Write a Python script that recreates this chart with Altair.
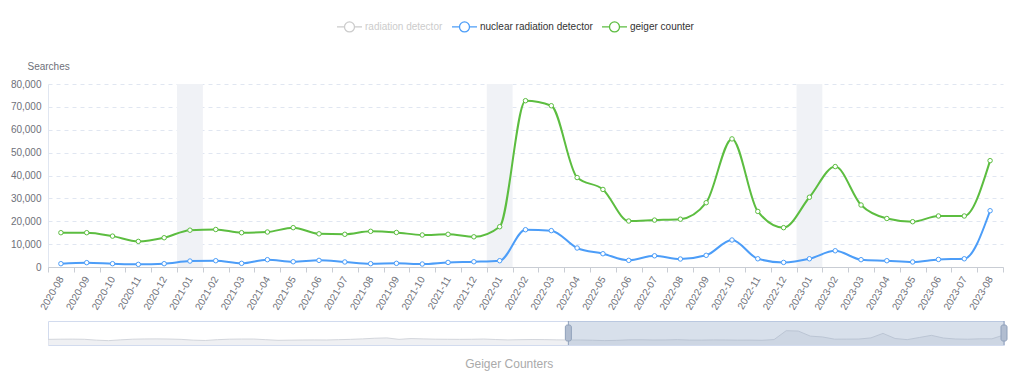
import altair as alt
import pandas as pd

FONT = "Liberation Sans"

months = [
    "2020-08", "2020-09", "2020-10", "2020-11", "2020-12",
    "2021-01", "2021-02", "2021-03", "2021-04", "2021-05", "2021-06",
    "2021-07", "2021-08", "2021-09", "2021-10", "2021-11", "2021-12",
    "2022-01", "2022-02", "2022-03", "2022-04", "2022-05", "2022-06",
    "2022-07", "2022-08", "2022-09", "2022-10", "2022-11", "2022-12",
    "2023-01", "2023-02", "2023-03", "2023-04", "2023-05", "2023-06",
    "2023-07", "2023-08",
]

nuclear_radiation_detector = [
    1450, 1900, 1450, 1150, 1450,
    2600, 2750, 1600, 3200, 2300, 2900, 2200, 1450, 1600, 1300, 2000, 2300,
    2750, 16300, 15900, 8300, 5800, 2900, 4900, 3500, 5100, 11800, 3600, 2000,
    3600, 7100, 3200, 2750, 2200, 3300, 3600, 24600,
]

geiger_counter = [
    15000, 15000, 13500, 11200, 12800,
    16100, 16400, 15000, 15300, 17200, 14500, 14300, 15600, 15100, 14000, 14300, 13200,
    17600, 72700, 70500, 39100, 33900, 20100, 20500, 20900, 28100, 56000, 24300, 17200,
    30500, 43900, 27100, 21200, 19800, 22300, 22300, 46500,
]

series_names = ["radiation detector", "nuclear radiation detector", "geiger counter"]
series_colors = ["#cccccc", "#4c9df8", "#5cbd40"]

highlight_months = ["2021-01", "2022-01", "2023-01"]

y_ticks = [0, 10000, 20000, 30000, 40000, 50000, 60000, 70000, 80000]

# overview (data-zoom) series: earlier months 2017-01 .. 2020-07, then the shown window
early_months = [f"{y}-{m:02d}" for y in range(2017, 2021) for m in range(1, 13)][:43]
early_geiger = [
    19000, 20000, 20500, 19500, 14000, 11000, 16000, 20000, 21500, 22000, 21000, 19000,
    14000, 12000, 17000, 20000, 21000, 21000, 17000, 13000, 14000, 15000, 15500, 15000,
    17000, 19000, 22000, 26000, 28000, 19000, 24000, 22000, 20000, 19500, 19000, 19500,
    21000, 18000, 15500, 17000, 18000, 17500, 16000,
]
all_months = early_months + months
overview_values = early_geiger + geiger_counter

# ---------------- data frames ----------------
long_df = pd.DataFrame({
    "month": months * 2,
    "series": ["nuclear radiation detector"] * len(months) + ["geiger counter"] * len(months),
    "value": nuclear_radiation_detector + geiger_counter,
})
hl_df = pd.DataFrame({"month": highlight_months})
ov_df = pd.DataFrame({"idx": list(range(len(all_months))), "month": all_months, "value": overview_values})
sel_start = all_months.index(months[0])
sel_end = all_months.index(months[-1])
sel_df = pd.DataFrame({"start": [sel_start], "end": [sel_end]})
handle_df = pd.DataFrame({"pos": [sel_start, sel_end]})

# ---------------- main chart ----------------
x_scale = alt.Scale(type="band", domain=months, paddingInner=0, paddingOuter=0)
x_axis = alt.Axis(
    title=None, labelAngle=-60, labelAlign="right", labelBaseline="middle",
    labelPadding=5, tickBand="extent", tickSize=5, tickColor="#c9cdd4",
    domainColor="#c9cdd4", labelColor="#6e7079", labelFontSize=10, labelFont=FONT,
    grid=False,
)
y_scale = alt.Scale(domain=[0, 80000], nice=False)
y_axis = alt.Axis(
    values=y_ticks, format=",d", title="Searches",
    titleAngle=0, titleAlign="left", titleBaseline="middle", titleX=-21, titleY=-18,
    titleFontWeight="normal", titleColor="#6e7079", titleFontSize=10, titleFont=FONT,
    labelColor="#6e7079", labelFontSize=10, labelFont=FONT, labelPadding=7,
    ticks=False, domain=True, domainColor="#e0e6f1",
    grid=True, gridDash=[4, 4], gridColor="#e0e6f1",
)

bands = alt.Chart(hl_df).mark_rect(color="#f0f2f6").encode(
    x=alt.X("month:O", scale=x_scale, axis=x_axis),
    y=alt.datum(80000, type="quantitative", scale=y_scale, axis=y_axis),
    y2=alt.datum(0),
)

color_scale = alt.Scale(domain=series_names, range=series_colors)

lines = alt.Chart(long_df).mark_line(interpolate="monotone", strokeWidth=2).encode(
    x=alt.X("month:O", scale=x_scale, axis=x_axis, bandPosition=0.5),
    y=alt.Y("value:Q", scale=y_scale, axis=y_axis),
    color=alt.Color(
        "series:N", scale=color_scale,
        legend=alt.Legend(
            title=None, orient="none", legendX=288, legendY=-71, direction="horizontal",
            symbolType="M-1,0L-0.42,0M0.42,0L1,0M0.4,0A0.4,0.4,0,1,1,-0.4,0A0.4,0.4,0,1,1,0.4,0",
            symbolSize=625, symbolStrokeWidth=1.3, symbolFillColor="white",
            labelFont=FONT, labelFontSize=10, labelOffset=2, columnPadding=6,
            labelColor=alt.ExprRef("datum.label == 'radiation detector' ? '#cccccc' : '#333333'"),
        ),
    ),
)

points = alt.Chart(long_df).mark_point(filled=True, fill="white", size=20, strokeWidth=1, opacity=1).encode(
    x=alt.X("month:O", scale=x_scale, axis=x_axis, bandPosition=0.5),
    y=alt.Y("value:Q", scale=y_scale, axis=y_axis),
    stroke=alt.Stroke("series:N", scale=color_scale, legend=None),
)

main = alt.layer(bands, lines, points).properties(width=955, height=183)

# ---------------- overview slider ----------------
ox = alt.Scale(domain=[0, len(all_months) - 1], nice=False, zero=False)
oy = alt.Scale(domain=[-16000, 133000], nice=False, zero=False)

ov_area = alt.Chart(ov_df).mark_area(
    color="#e8eaee", line={"color": "#d3d6dc", "strokeWidth": 1}
).encode(
    x=alt.X("idx:Q", scale=ox, axis=None),
    y=alt.Y("value:Q", scale=oy, axis=None),
    y2=alt.datum(-16000),
)
ov_sel = alt.Chart(sel_df).mark_rect(fill="#8fa5c7", opacity=0.35).encode(
    x=alt.X("start:Q", scale=ox), x2="end:Q"
)
ov_edges = alt.Chart(handle_df).mark_rule(color="#8fa0ba", strokeWidth=1).encode(
    x=alt.X("pos:Q", scale=ox)
)
ov_handles = alt.Chart(handle_df).mark_tick(
    color="#b1bdd0", size=16, thickness=6, cornerRadius=2, stroke="#8fa0ba", strokeWidth=1, opacity=1
).encode(x=alt.X("pos:Q", scale=ox))

slider = alt.layer(ov_area, ov_sel, ov_edges, ov_handles).properties(
    width=956, height=24, view=alt.ViewBackground(stroke="#d2dbee", strokeWidth=1)
)

chart = alt.vconcat(main, slider, spacing=8).properties(
    title=alt.TitleParams(
        "Geiger Counters", orient="bottom", anchor="middle", color="#aaaaaa",
        fontSize=12, fontWeight="normal", font=FONT, offset=13,
    ),
    padding={"left": 2, "top": 5, "right": 5, "bottom": 5},
).resolve_scale(color="independent").configure_view(strokeWidth=0)

chart.save("out.html", embed_options={"renderer": "svg", "actions": False})
